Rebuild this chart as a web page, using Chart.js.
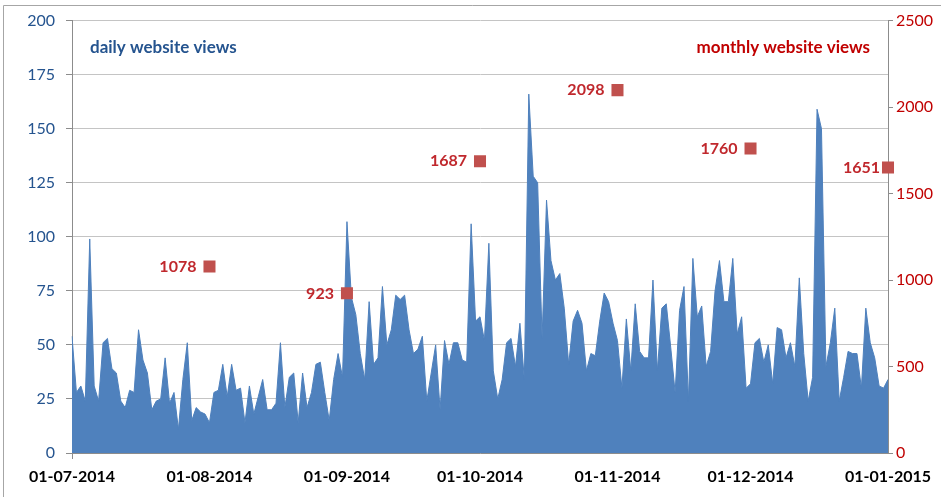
<!DOCTYPE html>
<html>
<head>
<meta charset="utf-8">
<script src="https://cdn.jsdelivr.net/npm/chart.js@4.4.0/dist/chart.umd.min.js"></script>
<style>
	body { margin: 0; background: #fff; }
	#wrap { width: 949px; height: 497px; position: relative; }
</style>
</head>
<body>
<div id="wrap"><canvas id="viewsChart"></canvas></div>
<script>
// daily views, 01-07-2014 .. 01-01-2015
const dailyViews = [
	// july
	54, 28, 31, 24, 99, 31, 24, 51, 53, 39, 37, 24, 21, 29, 28, 57, 43, 37, 20, 24, 25, 44, 23, 28, 11, 34, 51, 15, 21, 19, 18,
	// august
	14, 28, 29, 41, 26, 41, 29, 30, 14, 31, 18, 26, 34, 20, 20, 23, 51, 21, 35, 37, 14, 37, 21, 28, 41, 42, 28, 15, 34, 46, 35,
	// september
	107, 72, 64, 46, 34, 70, 41, 44, 77, 50, 57, 73, 71, 73, 57, 46, 48, 54, 24, 37, 50, 20, 52, 41, 51, 51, 43, 42, 106, 61,
	// october
	63, 52, 97, 38, 25, 34, 51, 53, 40, 60, 34, 166, 128, 125, 53, 117, 89, 80, 83, 67, 41, 61, 66, 60, 38, 46, 45, 61, 74, 70, 60,
	// november
	52, 30, 62, 38, 69, 47, 44, 44, 80, 38, 67, 69, 49, 28, 66, 77, 24, 90, 63, 68, 40, 47, 75, 89, 70, 70, 90, 55, 63, 30,
	// december + 01-01
	32, 51, 53, 42, 50, 32, 58, 57, 44, 51, 40, 81, 46, 24, 35, 159, 150, 40, 51, 67, 24, 35, 47, 46, 46, 30, 67, 51, 44, 31, 30, 34
];
const monthlyDates = ['01-08-2014', '01-09-2014', '01-10-2014', '01-11-2014', '01-12-2014', '01-01-2015'];
const monthlyViews = [1078, 923, 1687, 2098, 1760, 1651];

const blue = '#4f81bd';
const axisBlue = '#25548f';
const red = '#c0504d';
const darkRed = '#c00000';

// one label per day
const labels = [];
const start = Date.UTC(2014, 6, 1);
for (let i = 0; i < dailyViews.length; i++) {
	const d = new Date(start + i * 86400000);
	const dd = String(d.getUTCDate()).padStart(2, '0');
	const mm = String(d.getUTCMonth() + 1).padStart(2, '0');
	labels.push(dd + '-' + mm + '-' + d.getUTCFullYear());
}
const isMonthStart = (i) => labels[i] && labels[i].startsWith('01-');

const textPlugin = {
	id: 'textPlugin',
	beforeDraw(chart) {
		const ctx = chart.ctx;
		ctx.save();
		ctx.strokeStyle = '#a6a6a6';
		ctx.lineWidth = 1;
		ctx.beginPath();
		ctx.moveTo(3.5, 497);
		ctx.lineTo(3.5, 5.5);
		ctx.lineTo(941, 5.5);
		ctx.stroke();
		ctx.restore();
	},
	afterDatasetsDraw(chart) {
		const ctx = chart.ctx;
		const area = chart.chartArea;
		ctx.save();
		ctx.font = 'bold 17px Lato';
		ctx.textBaseline = 'middle';
		ctx.fillStyle = axisBlue;
		ctx.textAlign = 'left';
		ctx.fillText('daily website views', area.left + 18, 48);
		ctx.fillStyle = darkRed;
		ctx.textAlign = 'right';
		ctx.fillText('monthly website views', area.right - 18, 48);

		ctx.font = 'bold 16px Lato';
		ctx.fillStyle = '#c0282d';
		const meta = chart.getDatasetMeta(1);
		meta.data.forEach((pt, i) => {
			const gap = i === meta.data.length - 1 ? 8 : 13;
			ctx.fillText(String(monthlyViews[i]), pt.x - gap, pt.y);
		});
		ctx.restore();
	}
};

new Chart(document.getElementById('viewsChart'), {
	type: 'line',
	data: {
		labels: labels,
		datasets: [
			{
				label: 'daily website views',
				data: dailyViews,
				yAxisID: 'y',
				fill: 'origin',
				backgroundColor: blue,
				borderColor: blue,
				borderWidth: 1,
				pointRadius: 0,
				tension: 0,
				order: 2
			},
			{
				label: 'monthly website views',
				data: monthlyDates.map((d, i) => ({ x: d, y: monthlyViews[i] })),
				yAxisID: 'y1',
				showLine: false,
				pointStyle: 'rect',
				pointRadius: 8.5,
				pointBackgroundColor: red,
				pointBorderColor: red,
				pointBorderWidth: 0,
				order: 1
			}
		]
	},
	options: {
		responsive: true,
		maintainAspectRatio: false,
		animation: false,
		layout: { padding: { top: 19, left: 0, right: 0, bottom: 0 } },
		plugins: {
			legend: { display: false },
			tooltip: { enabled: false }
		},
		scales: {
			x: {
				type: 'category',
				offset: false,
				border: { color: '#8c8c8c' },
				grid: {
					drawOnChartArea: false,
					tickLength: 6,
					tickColor: (c) => isMonthStart(c.index) ? '#8c8c8c' : 'transparent'
				},
				ticks: {
					autoSkip: false,
					maxRotation: 0,
					padding: 8,
					color: '#000',
					font: { family: 'Lato', size: 16, weight: 'bold' },
					callback: (v, i) => isMonthStart(i) ? labels[i] : null
				},
				afterFit: (s) => { s.height = 44; }
			},
			y: {
				position: 'left',
				min: 0,
				max: 200,
				border: { color: '#8c8c8c' },
				grid: {
					color: (c) => c.tick && c.tick.value % 25 === 0 ? '#c4c4c4' : 'transparent',
					tickColor: '#8c8c8c',
					tickLength: 6
				},
				ticks: {
					stepSize: 5,
					autoSkip: false,
					padding: 11,
					color: axisBlue,
					font: { family: 'Lato', size: 16 },
					callback: (v) => v % 25 === 0 ? v : null
				},
				afterFit: (s) => { s.width = 72; }
			},
			y1: {
				position: 'right',
				min: 0,
				max: 2500,
				border: { color: '#8c8c8c' },
				grid: {
					drawOnChartArea: false,
					tickColor: '#8c8c8c',
					tickLength: 5
				},
				ticks: {
					stepSize: 100,
					autoSkip: false,
					padding: 3,
					color: darkRed,
					font: { family: 'Lato', size: 16 },
					callback: (v) => v % 500 === 0 ? v : null
				},
				afterFit: (s) => { s.width = 61; }
			}
		}
	},
	plugins: [textPlugin]
});
</script>
</body>
</html>
